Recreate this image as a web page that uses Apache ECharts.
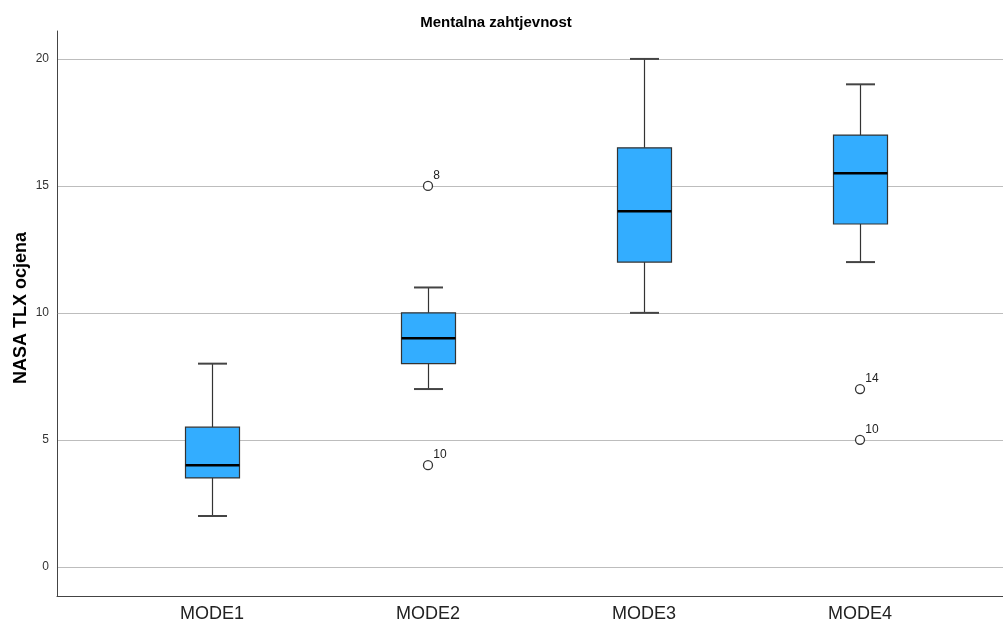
<!DOCTYPE html>
<html>
<head>
<meta charset="utf-8">
<script src="https://cdn.jsdelivr.net/npm/echarts@6/dist/echarts.min.js"></script>
<style>html,body{margin:0;padding:0;background:#fff}#c{width:1003px;height:623px}</style>
</head>
<body>
<div id="c"></div>
<script>
const categories = ['MODE1', 'MODE2', 'MODE3', 'MODE4'];
const lowWhisker = [2, 7, 10, 12];
const q1 = [3.5, 8, 12, 13.5];
const median = [4, 9, 14, 15.5];
const q3 = [5.5, 10, 16.5, 17];
const highWhisker = [8, 11, 20, 19];
const outlierCat = [1, 1, 3, 3];
const outlierVal = [15, 4, 7, 5];
const outlierLabel = ['8', '10', '14', '10'];
const yTicks = [0, 5, 10, 15, 20];

const FONT = '"Liberation Sans", Arial, sans-serif';
const boxData = categories.map((c, i) => [i, lowWhisker[i], q1[i], median[i], q3[i], highWhisker[i]]);
const outData = outlierCat.map((c, i) => ({ value: [c, outlierVal[i]], name: outlierLabel[i] }));

const chart = echarts.init(document.getElementById('c'), null, { renderer: 'canvas' });
const yMin = -1.15, yMax = 21.1;
chart.setOption({
  animation: false,
  title: {
    text: 'Mentalna zahtjevnost', left: 491, top: 10, textAlign: 'center',
    textStyle: { fontFamily: FONT, fontSize: 15, fontWeight: 'bold', color: '#000' }
  },
  grid: [
    { left: 57, right: 0, top: 31, bottom: 27, containLabel: false, outerBoundsMode: 'none' },
    { left: 104, right: 35, top: 31, bottom: 27, containLabel: false, outerBoundsMode: 'none' }
  ],
  xAxis: [
    { gridIndex: 0, type: 'value', min: 0, max: 1, axisLine: { show: true, onZero: false, lineStyle: { color: '#444', width: 1 } },
      axisTick: { show: false }, axisLabel: { show: false }, splitLine: { show: false } },
    { gridIndex: 1, type: 'category', data: categories,
      axisLine: { show: false }, axisTick: { show: false },
      axisLabel: { fontFamily: FONT, fontSize: 18, color: '#222', margin: 9 } }
  ],
  yAxis: [
    { gridIndex: 0, type: 'value', min: yMin, max: yMax,
      name: 'NASA TLX ocjena', nameLocation: 'middle', nameGap: 27, nameRotate: 90, nameMoveOverlap: false,
      nameTextStyle: { fontFamily: FONT, fontSize: 18, fontWeight: 'bold', color: '#000', padding: [0, 0, 0, 11] },
      axisLine: { show: true, lineStyle: { color: '#444', width: 1 } },
      axisTick: { show: false, customValues: yTicks },
      axisLabel: { customValues: yTicks, fontFamily: FONT, fontSize: 12, color: '#333', margin: 8 },
      splitLine: { show: true, lineStyle: { color: '#bdbdbd', width: 1 } } },
    { gridIndex: 1, type: 'value', min: yMin, max: yMax, show: false, splitLine: { show: false } }
  ],
  series: [
    {
      type: 'custom', xAxisIndex: 1, yAxisIndex: 1, data: boxData,
      encode: { x: 0, y: [1, 2, 3, 4, 5] },
      renderItem: function (params, api) {
        const ci = api.value(0);
        const bw = 54, cw = 29;
        const pLow = api.coord([ci, api.value(1)]);
        const pQ1 = api.coord([ci, api.value(2)]);
        const pMed = api.coord([ci, api.value(3)]);
        const pQ3 = api.coord([ci, api.value(4)]);
        const pHigh = api.coord([ci, api.value(5)]);
        const x = Math.round(pLow[0]) + 0.5;
        const ln = { stroke: '#333', lineWidth: 1.2 };
        return {
          type: 'group',
          children: [
            { type: 'line', shape: { x1: x, y1: pLow[1], x2: x, y2: pQ1[1] }, style: ln },
            { type: 'line', shape: { x1: x, y1: pQ3[1], x2: x, y2: pHigh[1] }, style: ln },
            { type: 'line', shape: { x1: x - cw / 2, y1: pLow[1], x2: x + cw / 2, y2: pLow[1] }, style: { stroke: '#444', lineWidth: 2 } },
            { type: 'line', shape: { x1: x - cw / 2, y1: pHigh[1], x2: x + cw / 2, y2: pHigh[1] }, style: { stroke: '#444', lineWidth: 2 } },
            { type: 'rect', shape: { x: x - bw / 2, y: pQ3[1], width: bw, height: pQ1[1] - pQ3[1] },
              style: { fill: '#33adff', stroke: '#333', lineWidth: 1.2 } },
            { type: 'line', shape: { x1: x - bw / 2, y1: pMed[1], x2: x + bw / 2, y2: pMed[1] },
              style: { stroke: '#000', lineWidth: 2.5 } }
          ]
        };
      }
    },
    {
      type: 'scatter', xAxisIndex: 1, yAxisIndex: 1, data: outData,
      symbol: 'circle', symbolSize: 9,
      itemStyle: { color: '#fff', borderColor: '#333', borderWidth: 1.3, opacity: 1 },
      label: { show: true, formatter: p => p.name, position: [10.5, -11], fontFamily: FONT, fontSize: 12, color: '#222' }
    }
  ]
});
</script>
</body>
</html>
